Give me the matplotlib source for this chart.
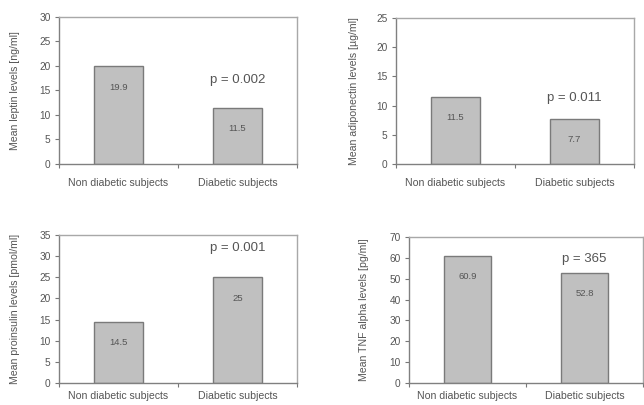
import matplotlib
matplotlib.use("Agg")
import matplotlib.pyplot as plt

plt.rcParams['font.family'] = ['Liberation Sans', 'DejaVu Sans']

categories = ["Non diabetic subjects", "Diabetic subjects"]

leptin = [19.9, 11.5]
leptin_labels = ["19.9", "11.5"]
adiponectin = [11.5, 7.7]
adiponectin_labels = ["11.5", "7.7"]
proinsulin = [14.5, 25.0]
proinsulin_labels = ["14.5", "25"]
tnf = [60.9, 52.8]
tnf_labels = ["60.9", "52.8"]

ylabels = ["Mean leptin levels [ng/ml]",
           "Mean adiponectin levels [µg/ml]",
           "Mean proinsulin levels [pmol/ml]",
           "Mean TNF alpha levels [pg/ml]"]
p_texts = ["p = 0.002", "p = 0.011", "p = 0.001", "p = 365"]
p_y = [17.1, 11.3, 31.9, 59.4]
ymaxes = [30, 25, 35, 70]
ysteps = [5, 5, 5, 10]

W, H = 644, 405
fig = plt.figure(figsize=(W / 100, H / 100), dpi=100)

# pixel boxes: left, right, top, bottom
boxes = [(59, 297, 17, 164), (396, 634, 18, 164),
         (59, 297, 235, 383), (409, 643, 237, 383)]
ylabel_x = [15, 354, 15, 364]
xpads = [10, 10, 6, 6]

datasets = [(leptin, leptin_labels), (adiponectin, adiponectin_labels),
            (proinsulin, proinsulin_labels), (tnf, tnf_labels)]

txt = '#555555'
for i, (box, (vals, labs)) in enumerate(zip(boxes, datasets)):
    l, r, t, b = box
    ax = fig.add_axes([l / W, (H - b) / H, (r - l) / W, (b - t) / H])
    x = list(range(len(categories)))
    ax.bar(x, vals, width=0.41, color='#c0c0c0', edgecolor='#7a7a7a', linewidth=1.0, zorder=2)
    for xi, v, lab in zip(x, vals, labs):
        ax.annotate(lab, (xi, v), xytext=(0, -15), textcoords='offset points',
                    ha='center', va='center', fontsize=6.8, color=txt)
    ax.set_xlim(-0.5, 1.5)
    ax.set_ylim(0, ymaxes[i])
    ax.set_yticks(range(0, ymaxes[i] + 1, ysteps[i]))
    ax.set_xticks([-0.5, 0.5, 1.5])
    ax.set_xticklabels([])
    ax.set_xticks(x, minor=True)
    ax.set_xticklabels(categories, minor=True)
    ax.tick_params(axis='x', which='minor', length=0, pad=xpads[i], labelsize=7.6, labelcolor=txt)
    ax.tick_params(axis='x', which='major', length=3, color='#777777', direction='out')
    ax.tick_params(axis='y', length=3, color='#777777', labelsize=7.3, labelcolor=txt, pad=3)
    for s in ['left', 'bottom']:
        ax.spines[s].set_color('#808080')
        ax.spines[s].set_linewidth(1.0)
    for s in ['top', 'right']:
        ax.spines[s].set_color('#a8a8a8')
        ax.spines[s].set_linewidth(1.0)
    ax.text(1, p_y[i], p_texts[i], ha='center', va='center', fontsize=9.5, color=txt)
    fig.text(ylabel_x[i] / W, (H - (t + b) / 2) / H, ylabels[i], rotation=90,
             ha='center', va='center', fontsize=7.6, color=txt)

fig.savefig("out.png", dpi=100)
